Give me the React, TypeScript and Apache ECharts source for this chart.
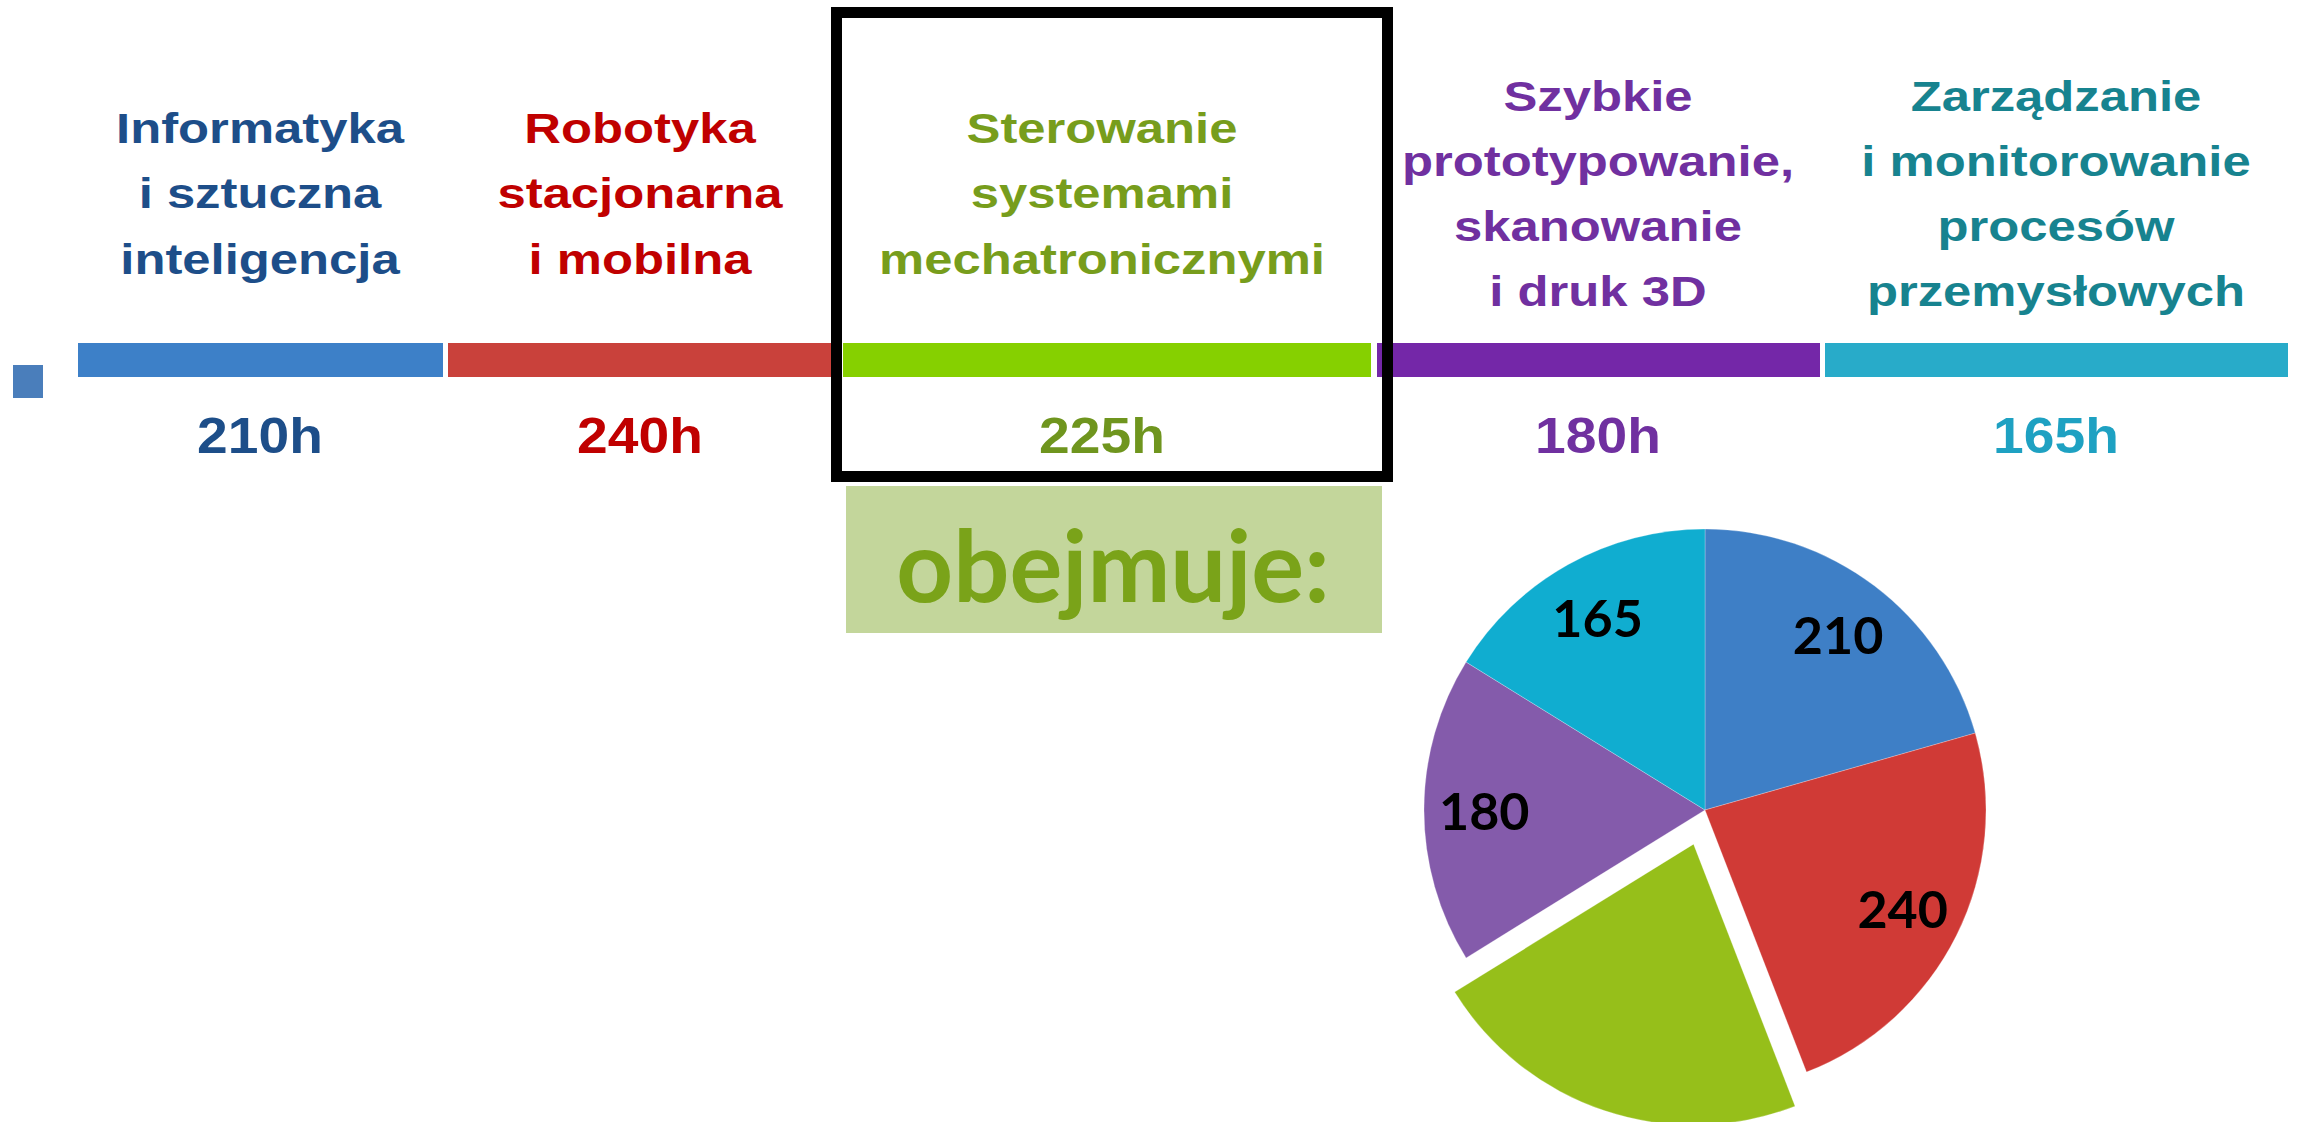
import React, { useEffect, useRef } from "react";
import * as echarts from "echarts";

// ---- data ----
const categories = [
  "Informatyka\ni sztuczna\ninteligencja",
  "Robotyka\nstacjonarna\ni mobilna",
  "Sterowanie\nsystemami\nmechatronicznymi",
  "Szybkie\nprototypowanie,\nskanowanie\ni druk 3D",
  "Zarządzanie\ni monitorowanie\nprocesów\nprzemysłowych",
];
const hours = [210, 240, 225, 180, 165];
const hourUnit = "h";
const highlightedIndex = 2;
const subtitle = "obejmuje:";

// ---- styles ----
const headingColors = ["#1d4e89", "#c00000", "#779d1c", "#7030a0", "#17838f"];
const hourColors = ["#1d4e89", "#c00000", "#6f951e", "#7030a0", "#1ea1c2"];
const barColors = ["#3d80c8", "#c9413b", "#86d000", "#7427a8", "#28abc9"];
const pieColors = ["#3e7fc6", "#d03a36", "#96bf1a", "#845bab", "#10add0"];

// ---- layout ----
const segStart = [78, 448, 843, 1377, 1825];
const segEnd = [443, 838, 1371, 1820, 2288];
const textCenters = [260, 640, 1102, 1598, 2056];
const barTop = 343;
const barHeight = 34;
const pieCenter = [1705, 810];
const pieR = 281;

export default function App() {
  const ref = useRef<HTMLDivElement>(null);

  useEffect(() => {
    if (!ref.current) return;
    const chart = echarts.init(ref.current, null, { renderer: "svg" });

    const graphics: any[] = [];
    // small marker square
    graphics.push({
      type: "rect",
      shape: { x: 13, y: 365, width: 30, height: 33 },
      style: { fill: "#4a7ebb" },
      z: 1,
    });
    categories.forEach((name, i) => {
      graphics.push({
        type: "rect",
        shape: { x: segStart[i], y: barTop, width: segEnd[i] - segStart[i], height: barHeight },
        style: { fill: barColors[i] },
        z: 1,
      });
      graphics.push({
        type: "text",
        x: textCenters[i],
        y: 194,
        scaleX: 1.27,
        scaleY: 1.05,
        style: {
          text: name,
          fill: headingColors[i],
          fontFamily: "Liberation Sans",
          fontWeight: "bold",
          fontSize: 40,
          lineHeight: 62,
          align: "center",
          verticalAlign: "middle",
          textAlign: "center",
          textVerticalAlign: "middle",
        },
        z: 2,
      });
      graphics.push({
        type: "text",
        x: textCenters[i],
        y: 435,
        scaleX: 1.15,
        scaleY: 1.05,
        style: {
          text: hours[i] + hourUnit,
          fill: hourColors[i],
          fontFamily: "Liberation Sans",
          fontWeight: "bold",
          fontSize: 48,
          align: "center",
          verticalAlign: "middle",
          textAlign: "center",
          textVerticalAlign: "middle",
        },
        z: 2,
      });
    });
    // highlight box
    graphics.push({
      type: "rect",
      shape: { x: 836.5, y: 12.5, width: 551, height: 464 },
      style: { fill: "none", stroke: "#000000", lineWidth: 11 },
      z: 5,
    });
    // subtitle box
    graphics.push({
      type: "rect",
      shape: { x: 846, y: 486, width: 536, height: 147 },
      style: { fill: "#c3d69b" },
      z: 1,
    });
    graphics.push({
      type: "text",
      x: 1113,
      y: 563,
      style: {
        text: subtitle,
        fill: "#7aa319",
        fontFamily: "Lato",
        fontWeight: "bold",
        fontSize: 99,
        align: "center",
        verticalAlign: "middle",
        textAlign: "center",
        textVerticalAlign: "middle",
      },
      z: 2,
    });

    const pieData = hours.map((v, i) => ({
      value: v,
      name: categories[i].replace(/\n/g, " "),
      selected: i === highlightedIndex,
      itemStyle: { color: pieColors[i] },
      select: { itemStyle: { color: pieColors[i] } },
    }));
    const labelData = hours.map((v, i) => ({
      value: v,
      name: categories[i].replace(/\n/g, " "),
      label: { show: i !== highlightedIndex },
    }));

    chart.setOption({
      animation: false,
      backgroundColor: "#ffffff",
      graphic: graphics,
      series: [
        {
          type: "pie",
          center: pieCenter,
          radius: [0, pieR],
          startAngle: 90,
          clockwise: true,
          selectedMode: "single",
          selectedOffset: 36,
          silent: true,
          label: { show: false },
          labelLine: { show: false },
          itemStyle: { borderColor: "rgba(255,255,255,0.5)", borderWidth: 0.5 },
          emphasis: { disabled: true },
          data: pieData,
          z: 2,
        },
        {
          type: "pie",
          center: pieCenter,
          radius: [pieR * 0.55, pieR],
          startAngle: 90,
          clockwise: true,
          silent: true,
          itemStyle: { color: "rgba(0,0,0,0)" },
          emphasis: { disabled: true },
          label: {
            show: true,
            position: "inside",
            formatter: "{c}",
            color: "#000000",
            fontFamily: "Lato",
            fontWeight: "bold",
            fontSize: 52,
          },
          labelLine: { show: false },
          data: labelData,
          z: 3,
        },
      ],
    });

    return () => chart.dispose();
  }, []);

  return (
    <div
      ref={ref}
      style={{ position: "absolute", left: 0, top: 0, width: 2298, height: 1122, background: "#fff" }}
    />
  );
}
